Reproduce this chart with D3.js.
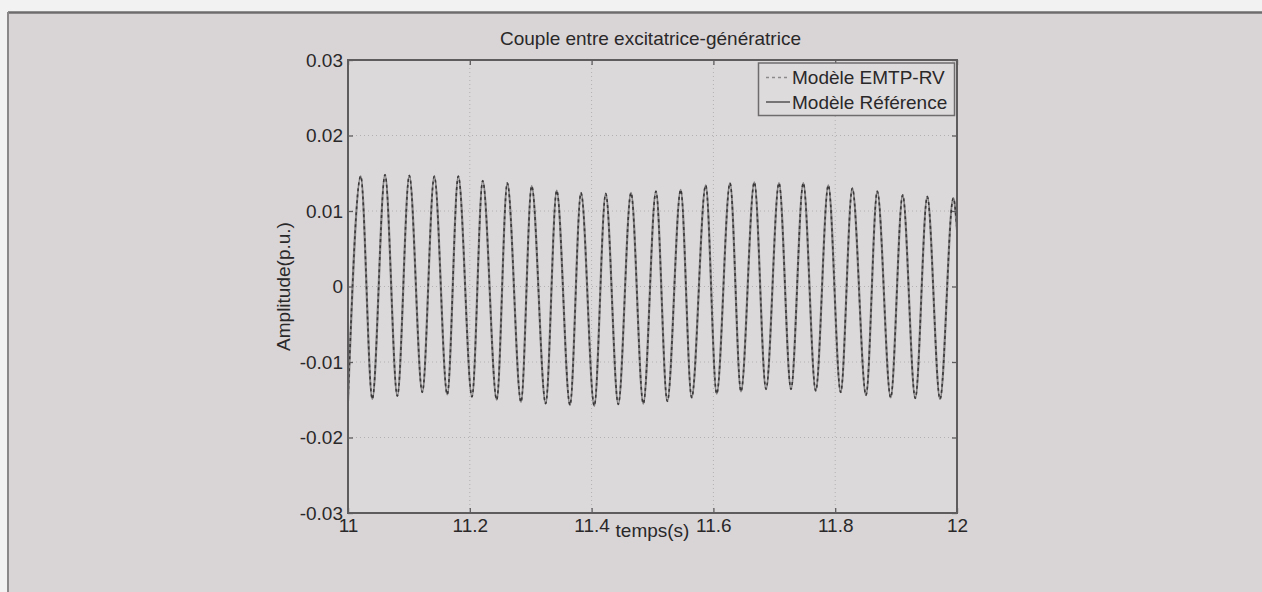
<!DOCTYPE html>
<html>
<head>
<meta charset="utf-8">
<script src="https://cdn.jsdelivr.net/npm/d3@7"></script>
<style>
  html, body { margin: 0; padding: 0; background: #f4f3f3; }
  svg { display: block; }
  text { font-family: "Liberation Sans", Arial, Helvetica, sans-serif; fill: #2a2829; }
</style>
</head>
<body>
<svg id="chart" width="1262" height="592"></svg>
<script>
// ---- Data ----
const chartTitle = "Couple entre excitatrice-génératrice";
const xLabel = "temps(s)";
const yLabel = "Amplitude(p.u.)";
const seriesNames = ["Modèle EMTP-RV", "Modèle Référence"];

const xTicks = [11, 11.2, 11.4, 11.6, 11.8, 12];
const xTickLabels = ["11", "11.2", "11.4", "11.6", "11.8", "12"];
const yTicks = [-0.03, -0.02, -0.01, 0, 0.01, 0.02, 0.03];
const yTickLabels = ["-0.03", "-0.02", "-0.01", "0", "0.01", "0.02", "0.03"];

// successive extrema (trough / peak) of the oscillation, time in s
const sampleTimes = [
  11.0000, 11.0209, 11.0399, 11.0608, 11.0810, 11.1007, 11.1220, 11.1417,
  11.1630, 11.1811, 11.2036, 11.2212, 11.2442, 11.2616, 11.2841, 11.3016,
  11.3246, 11.3427, 11.3645, 11.3826, 11.4044, 11.4232, 11.4438, 11.4647,
  11.4849, 11.5057, 11.5243, 11.5463, 11.5643, 11.5874, 11.6054, 11.6273,
  11.6453, 11.6672, 11.6864, 11.7077, 11.7274, 11.7476, 11.7680, 11.7887,
  11.8090, 11.8281, 11.8506, 11.8691, 11.8911, 11.9108, 11.9315, 11.9512,
  11.9721, 11.9939, 12.0000
];
const referenceValues = [
  -0.0152, 0.0146, -0.0149, 0.0148, -0.0145, 0.0147, -0.0140, 0.0146,
  -0.0143, 0.0146, -0.0146, 0.0140, -0.0150, 0.0137, -0.0153, 0.0133,
  -0.0155, 0.0127, -0.0157, 0.0124, -0.0158, 0.0123, -0.0156, 0.0124,
  -0.0155, 0.0126, -0.0152, 0.0128, -0.0147, 0.0134, -0.0142, 0.0137,
  -0.0139, 0.0138, -0.0136, 0.0137, -0.0136, 0.0137, -0.0138, 0.0134,
  -0.0140, 0.0130, -0.0144, 0.0126, -0.0147, 0.0121, -0.0148, 0.0119,
  -0.0149, 0.0117, 0.0075
];
const emtpValues = [
  -0.0152, 0.0146, -0.0149, 0.0148, -0.0145, 0.0147, -0.0140, 0.0146,
  -0.0143, 0.0146, -0.0146, 0.0140, -0.0150, 0.0137, -0.0153, 0.0133,
  -0.0155, 0.0127, -0.0157, 0.0124, -0.0158, 0.0123, -0.0156, 0.0124,
  -0.0155, 0.0126, -0.0152, 0.0128, -0.0147, 0.0134, -0.0142, 0.0137,
  -0.0139, 0.0138, -0.0136, 0.0137, -0.0136, 0.0137, -0.0138, 0.0134,
  -0.0140, 0.0130, -0.0144, 0.0126, -0.0147, 0.0121, -0.0148, 0.0119,
  -0.0149, 0.0117, 0.0075
];

// ---- Layout ----
const W = 1262, H = 592;
const plot = { left: 348, right: 957, top: 60, bottom: 513 };
const FS = 19;

const svg = d3.select("#chart");

// paper (photographed page)
svg.append("rect").attr("x", 0).attr("y", 0).attr("width", W).attr("height", H).attr("fill", "#f3f2f2");
svg.append("rect").attr("x", 8).attr("y", 12).attr("width", W - 8).attr("height", H - 12).attr("fill", "#d9d5d7");
svg.append("line").attr("x1", 8).attr("x2", W).attr("y1", 12.5).attr("y2", 12.5).attr("stroke", "#6e6c6d").attr("stroke-width", 2.5);
svg.append("line").attr("x1", 8).attr("x2", 8).attr("y1", 12).attr("y2", H).attr("stroke", "#8a8889").attr("stroke-width", 2);

const x = d3.scaleLinear().domain([11, 12]).range([plot.left, plot.right]);
const y = d3.scaleLinear().domain([-0.03, 0.03]).range([plot.bottom, plot.top]);

// plot background
svg.append("rect")
  .attr("x", plot.left).attr("y", plot.top)
  .attr("width", plot.right - plot.left).attr("height", plot.bottom - plot.top)
  .attr("fill", "#dcd9db");

// grid
const grid = svg.append("g").attr("stroke", "#b3b0b2").attr("stroke-width", 1).attr("stroke-dasharray", "1,3");
grid.selectAll(".gx").data(xTicks.slice(1, -1)).join("line")
  .attr("x1", d => x(d)).attr("x2", d => x(d)).attr("y1", plot.top).attr("y2", plot.bottom);
grid.selectAll(".gy").data(yTicks.slice(1, -1)).join("line")
  .attr("y1", d => y(d)).attr("y2", d => y(d)).attr("x1", plot.left).attr("x2", plot.right);

// clip
svg.append("clipPath").attr("id", "clip").append("rect")
  .attr("x", plot.left).attr("y", plot.top)
  .attr("width", plot.right - plot.left).attr("height", plot.bottom - plot.top);

const refData = sampleTimes.map((t, i) => ({ t, v: referenceValues[i] }));
const emtpData = sampleTimes.map((t, i) => ({ t, v: emtpValues[i] }));
const line = d3.line().x(d => x(d.t)).y(d => y(d.v)).curve(d3.curveMonotoneX);

const lines = svg.append("g").attr("clip-path", "url(#clip)");
lines.append("path").datum(refData).attr("d", line)
  .attr("fill", "none").attr("stroke", "#858384").attr("stroke-width", 2.2);
lines.append("path").datum(emtpData).attr("d", line)
  .attr("fill", "none").attr("stroke", "#3a3839").attr("stroke-width", 1.6).attr("stroke-dasharray", "3,3");

// axes (ticks inward, MATLAB style)
const tickFmtX = (d, i) => xTickLabels[i];
const tickFmtY = (d, i) => yTickLabels[i];

function styleAxis(g) {
  g.select(".domain").remove();
  g.selectAll(".tick line").attr("stroke", "#5e5c5d").attr("stroke-width", 1.3);
  g.selectAll("text").attr("font-size", FS).attr("fill", "#2a2829")
    .attr("font-family", "'Liberation Sans', Arial, sans-serif");
}

svg.append("g").attr("transform", `translate(0,${plot.bottom})`)
  .call(d3.axisBottom(x).tickValues(xTicks).tickFormat(tickFmtX).tickSize(-5).tickPadding(6))
  .call(styleAxis);
svg.append("g").attr("transform", `translate(0,${plot.top})`)
  .call(d3.axisTop(x).tickValues(xTicks).tickFormat("").tickSize(-5))
  .call(styleAxis);
svg.append("g").attr("transform", `translate(${plot.left},0)`)
  .call(d3.axisLeft(y).tickValues(yTicks).tickFormat(tickFmtY).tickSize(-5).tickPadding(5))
  .call(styleAxis);
svg.append("g").attr("transform", `translate(${plot.right},0)`)
  .call(d3.axisRight(y).tickValues(yTicks).tickFormat("").tickSize(-5))
  .call(styleAxis);

// box
svg.append("rect")
  .attr("x", plot.left).attr("y", plot.top)
  .attr("width", plot.right - plot.left).attr("height", plot.bottom - plot.top)
  .attr("fill", "none").attr("stroke", "#5e5c5d").attr("stroke-width", 2);

// title and labels
svg.append("text").attr("x", (plot.left + plot.right) / 2 - 2).attr("y", 45)
  .attr("text-anchor", "middle").attr("font-size", FS).text(chartTitle);
svg.append("text").attr("x", (plot.left + plot.right) / 2).attr("y", 537)
  .attr("text-anchor", "middle").attr("font-size", FS).text(xLabel);
svg.append("text")
  .attr("transform", `translate(290,${(plot.top + plot.bottom) / 2}) rotate(-90)`)
  .attr("text-anchor", "middle").attr("font-size", FS).text(yLabel);

// legend
const lg = svg.append("g");
lg.append("rect").attr("x", 758.5).attr("y", 63).attr("width", 196).attr("height", 52.5)
  .attr("fill", "#dedbdd").attr("stroke", "#6e6c6d").attr("stroke-width", 1.5);
const legendItems = [
  { name: seriesNames[0], stroke: "#8c8a8b", dash: "3,3", w: 1.6 },
  { name: seriesNames[1], stroke: "#6a6869", dash: null, w: 1.8 }
];
legendItems.forEach((it, i) => {
  const cy = 77.5 + i * 24.5;
  lg.append("line").attr("x1", 766).attr("x2", 790).attr("y1", cy).attr("y2", cy)
    .attr("stroke", it.stroke).attr("stroke-width", it.w).attr("stroke-dasharray", it.dash);
  lg.append("text").attr("x", 792).attr("y", cy).attr("dy", "0.36em")
    .attr("font-size", FS).text(it.name);
});
</script>
</body>
</html>
